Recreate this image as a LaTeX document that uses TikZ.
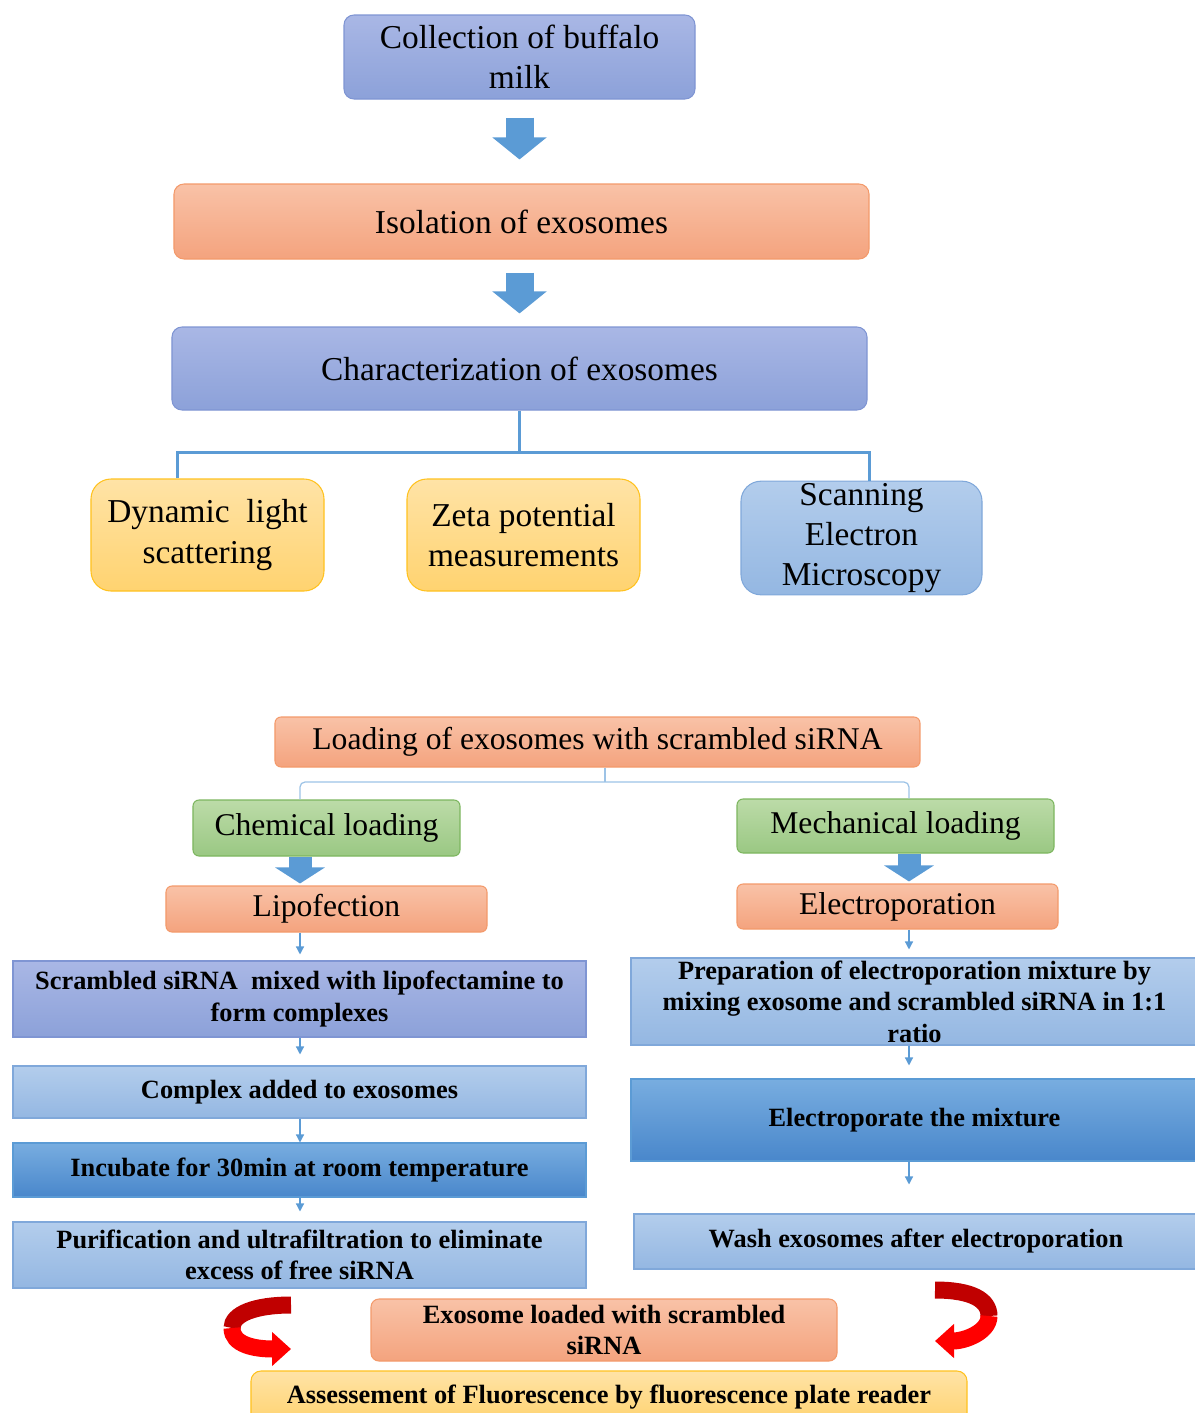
\documentclass[tikz,border=0pt]{standalone}
\usepackage{fontspec}
\setmainfont{Liberation Serif}
\usetikzlibrary{arrows.meta}
\usetikzlibrary{calc}
\definecolor{lavtop}{HTML}{A9B7E5}
\definecolor{lavbot}{HTML}{8CA1D9}
\definecolor{lavline}{HTML}{7F95D3}
\definecolor{saltop}{HTML}{F9C2A7}
\definecolor{salbot}{HTML}{F4A37E}
\definecolor{salline}{HTML}{F39A6B}
\definecolor{yeltop}{HTML}{FFE3A6}
\definecolor{yelbot}{HTML}{FFD370}
\definecolor{yelline}{HTML}{FFC21F}
\definecolor{skytop}{HTML}{B3CDEC}
\definecolor{skybot}{HTML}{94B7E2}
\definecolor{skyline}{HTML}{80A8DA}
\definecolor{midtop}{HTML}{78ADE0}
\definecolor{midbot}{HTML}{4987CB}
\definecolor{midline}{HTML}{5B9BD5}
\definecolor{grntop}{HTML}{BCDBA8}
\definecolor{grnbot}{HTML}{9AC883}
\definecolor{grnline}{HTML}{7DB65F}
\definecolor{arrowblue}{HTML}{5B9BD5}
\definecolor{braceblue}{HTML}{9DC3E6}
\definecolor{darkred}{HTML}{C00000}
\tikzset{
  stage/.style={draw, align=center, inner sep=1pt, line width=0.6pt},
  bigtext/.style={font={\fontsize{19}{23}\selectfont}},
  lowtext/.style={font={\fontsize{18}{22}\selectfont}},
  smalltext/.style={font={\fontsize{15}{18}\selectfont\bfseries}},
  lavbox/.style={stage, top color=lavtop, bottom color=lavbot, draw=lavline},
  salbox/.style={stage, top color=saltop, bottom color=salbot, draw=salline},
  yelbox/.style={stage, top color=yeltop, bottom color=yelbot, draw=yelline},
  skybox/.style={stage, top color=skytop, bottom color=skybot, draw=skyline},
  midbox/.style={stage, top color=midtop, bottom color=midbot, draw=midline},
  grnbox/.style={stage, top color=grntop, bottom color=grnbot, draw=grnline},
  blockarrow/.style={draw=arrowblue, line width=5.6mm, -{Triangle[length=4.4mm,width=10.6mm]}},
  smallblock/.style={draw=arrowblue, line width=4.6mm, -{Triangle[length=3.2mm,width=9.8mm]}},
  thinarrow/.style={draw=arrowblue, line width=0.25mm, -{Triangle[length=1.6mm,width=1.6mm]}},
  treeline/.style={draw=arrowblue, line width=0.6mm},
  braceline/.style={draw=braceblue, line width=0.25mm, rounded corners=1mm},
  redturn/.style={line width=3.4mm}
}

\begin{document}
\begin{tikzpicture}[x=0.2mm,y=-0.2mm]
\useasboundingbox (0,0) rectangle (1195,1413);
% characterization part
\node[lavbox, bigtext, rounded corners=2mm, minimum width=70.2mm, minimum height=16.8mm] (milk) at (519.5,57) {Collection of buffalo\\milk};
\node[salbox, bigtext, rounded corners=2mm, minimum width=139mm, minimum height=15mm] (isol) at (521.5,221.5) {Isolation of exosomes};
\node[lavbox, bigtext, rounded corners=2mm, minimum width=139mm, minimum height=16.6mm] (charact) at (519.5,368.5) {Characterization of exosomes};
\node[yelbox, bigtext, rounded corners=4mm, minimum width=46.6mm, minimum height=22.4mm] (dls) at (207.5,535) {Dynamic\ \ light\\scattering};
\node[yelbox, bigtext, rounded corners=4mm, minimum width=46.6mm, minimum height=22.4mm] (zeta) at (523.5,535) {Zeta potential\\measurements};
\node[skybox, bigtext, rounded corners=4mm, minimum width=48.2mm, minimum height=22.6mm] (sem) at (861.5,538) {Scanning\\Electron\\Microscopy};
\draw[blockarrow, shorten <=3.6mm, shorten >=4.8mm] (milk.south) -- (milk.south |- isol.north);
\draw[blockarrow, shorten <=2.6mm, shorten >=2.6mm] (charact.north |- isol.south) -- (charact.north);
\coordinate (tj) at ($(charact.south)+(0,42)$);
\draw[treeline] (charact.south) -- (tj);
\draw[treeline] ($(charact.south west |- dls.north)+(6,0)$) |- (tj) -| ($(charact.south east |- sem.north)+(2,0)$);
% loading part
\node[salbox, lowtext, rounded corners=1.2mm, minimum width=129mm, minimum height=10mm] (loading) at (597.5,742) {Loading of exosomes with scrambled siRNA};
\node[grnbox, lowtext, rounded corners=1.2mm, minimum width=53.4mm, minimum height=11.2mm] (chem) at (326.5,828) {Chemical loading};
\node[grnbox, lowtext, rounded corners=1.2mm, minimum width=63.4mm, minimum height=10.8mm] (mech) at (895.5,826) {Mechanical loading};
\node[salbox, lowtext, rounded corners=1.2mm, minimum width=64.2mm, minimum height=9.2mm] (lipo) at (326.5,909) {Lipofection};
\node[salbox, lowtext, rounded corners=1.2mm, minimum width=64.2mm, minimum height=9mm] (electro) at (897.5,906.5) {Electroporation};
\coordinate (lcol) at (300,782);
\coordinate (rcol) at (909,782);
\coordinate (notch) at ($(loading.south)+(7.5,0)$);
\draw[braceline] (lcol |- chem.north) -- (lcol) -- (rcol) -- (rcol |- mech.north);
\draw[braceline] (notch) -- (notch |- lcol);
\draw[smallblock, shorten >=0.4mm] (chem.south -| lcol) -- (lipo.north -| lcol);
\draw[smallblock, shorten >=0.4mm] (mech.south -| rcol) -- (electro.north -| rcol);
% lipofection steps
\node[lavbox, smalltext, minimum width=114.6mm, minimum height=15.2mm] (scram) at (299.5,999) {Scrambled siRNA\ \ mixed with lipofectamine to\\form complexes};
\node[skybox, smalltext, minimum width=114.6mm, minimum height=10.4mm] (complex) at (299.5,1092) {Complex added to exosomes};
\node[midbox, smalltext, minimum width=114.6mm, minimum height=10.8mm] (incub) at (299.5,1170) {Incubate for 30min at room temperature};
\node[skybox, smalltext, minimum width=114.6mm, minimum height=13.2mm] (purif) at (299.5,1255) {Purification and ultrafiltration to eliminate\\excess of free siRNA};
\draw[thinarrow, shorten >=1.2mm] (lipo.south -| lcol) -- (scram.north -| lcol);
\draw[thinarrow, shorten >=2.2mm] (scram.south -| lcol) -- (complex.north -| lcol);
\draw[thinarrow] (complex.south -| lcol) -- (incub.north -| lcol);
\draw[thinarrow, shorten >=2mm] (incub.south -| lcol) -- (purif.north -| lcol);
% electroporation steps
\node[skybox, smalltext, minimum width=113.4mm, minimum height=17.4mm] (prep) at (914.5,1001.5) {Preparation of electroporation mixture by\\mixing exosome and scrambled siRNA in 1:1\\ratio};
\node[midbox, smalltext, minimum width=113.4mm, minimum height=16.4mm] (electmix) at (914.5,1120) {Electroporate the mixture};
\node[skybox, smalltext, minimum width=112.8mm, minimum height=11mm] (wash) at (916,1241.5) {Wash exosomes after electroporation};
\draw[thinarrow, shorten >=1.6mm] (electro.south -| rcol) -- (prep.north -| rcol);
\draw[thinarrow, shorten >=2.6mm] (prep.south -| rcol) -- (electmix.north -| rcol);
\draw[thinarrow, shorten >=5.8mm] (electmix.south -| rcol) -- (wash.north -| rcol);
% result
\node[salbox, smalltext, rounded corners=1.6mm, minimum width=93.2mm, minimum height=12.4mm] (loaded) at (604,1330) {Exosome loaded with scrambled\\siRNA};
\node[yelbox, smalltext, rounded corners=2mm, minimum width=143.2mm, minimum height=10.4mm] (assess) at (609,1397) {Assessement of Fluorescence by fluorescence plate reader};
\draw[redturn, darkred] (291,1305) .. controls (255,1305) and (232,1314) .. (232,1328); %left turn
\draw[redturn, red, -{Triangle[length=3.8mm,width=6.6mm]}] (232,1328) .. controls (232,1345) and (255,1349) .. (291,1349);
\draw[redturn, darkred] (935,1290) .. controls (972,1290) and (989,1300) .. (989,1316); %right turn
\draw[redturn, red, -{Triangle[length=3.8mm,width=6.6mm]}] (989,1316) .. controls (989,1332) and (965,1341) .. (935,1341);
\end{tikzpicture}
\end{document}
